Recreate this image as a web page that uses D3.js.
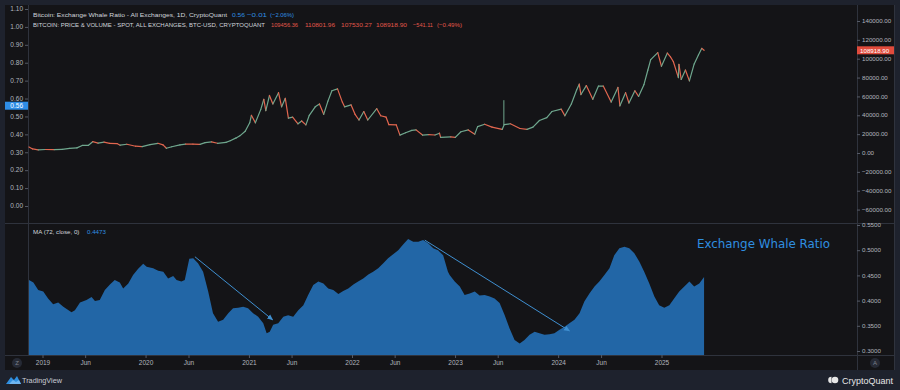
<!DOCTYPE html>
<html><head><meta charset="utf-8">
<script src="https://cdn.jsdelivr.net/npm/d3@7"></script>
<style>html,body{margin:0;padding:0;background:#1e222d;}svg{display:block}</style>
</head><body><svg id="c" width="900" height="390"></svg>
<script>
// ---------------- DATA ----------------
const whaleDates = ["2018-11-10","2018-11-28","2018-12-15","2019-01-02","2019-01-19","2019-02-06","2019-02-24","2019-03-14","2019-04-12","2019-04-24","2019-05-12","2019-06-04","2019-06-22","2019-07-04","2019-07-21","2019-08-08","2019-08-26","2019-09-12","2019-09-30","2019-10-12","2019-10-30","2019-11-16","2019-12-04","2019-12-22","2020-01-03","2020-01-26","2020-02-13","2020-03-02","2020-03-19","2020-04-06","2020-04-18","2020-05-05","2020-05-17","2020-06-02","2020-06-16","2020-07-03","2020-07-21","2020-08-08","2020-08-25","2020-09-12","2020-09-30","2020-10-18","2020-11-04","2020-11-22","2020-12-10","2020-12-27","2021-01-14","2021-02-01","2021-02-19","2021-03-03","2021-03-14","2021-03-26","2021-04-13","2021-05-01","2021-05-18","2021-06-05","2021-06-23","2021-07-11","2021-07-28","2021-08-15","2021-09-02","2021-09-20","2021-10-07","2021-10-25","2021-11-12","2021-11-29","2021-12-17","2022-01-04","2022-01-21","2022-02-08","2022-02-26","2022-03-15","2022-04-02","2022-04-20","2022-05-07","2022-05-25","2022-06-12","2022-06-30","2022-07-17","2022-08-04","2022-08-22","2022-09-08","2022-09-26","2022-10-14","2022-10-31","2022-11-18","2022-12-05","2022-12-11","2022-12-29","2023-01-16","2023-02-02","2023-02-20","2023-03-10","2023-03-27","2023-04-14","2023-05-02","2023-05-19","2023-06-06","2023-06-24","2023-07-11","2023-07-29","2023-08-16","2023-09-02","2023-09-20","2023-10-08","2023-10-25","2023-11-12","2023-11-30","2023-12-17","2024-01-04","2024-01-22","2024-02-08","2024-02-26","2024-03-15","2024-04-01","2024-04-19","2024-05-07","2024-05-24","2024-06-11","2024-06-29","2024-07-16","2024-08-03","2024-08-21","2024-09-07","2024-09-25","2024-10-13","2024-10-30","2024-11-17","2024-12-05","2024-12-22","2025-01-09","2025-01-27","2025-02-13","2025-03-03","2025-03-21","2025-04-08","2025-04-25","2025-05-13","2025-05-30"];
const whaleValues = [0.441,0.436,0.421,0.418,0.404,0.393,0.396,0.388,0.377,0.381,0.396,0.401,0.407,0.399,0.401,0.421,0.432,0.441,0.436,0.424,0.434,0.451,0.463,0.473,0.467,0.464,0.459,0.457,0.444,0.449,0.441,0.438,0.441,0.483,0.484,0.474,0.457,0.418,0.375,0.358,0.362,0.375,0.385,0.386,0.388,0.385,0.375,0.368,0.355,0.335,0.338,0.352,0.355,0.368,0.371,0.368,0.381,0.391,0.411,0.431,0.438,0.434,0.424,0.421,0.413,0.419,0.424,0.432,0.438,0.444,0.452,0.457,0.464,0.474,0.484,0.492,0.500,0.512,0.522,0.517,0.517,0.520,0.514,0.504,0.500,0.490,0.457,0.451,0.438,0.428,0.411,0.414,0.418,0.410,0.411,0.408,0.404,0.395,0.371,0.345,0.322,0.315,0.322,0.332,0.338,0.335,0.332,0.333,0.335,0.342,0.348,0.355,0.362,0.375,0.398,0.414,0.428,0.438,0.451,0.464,0.490,0.504,0.507,0.504,0.494,0.477,0.457,0.434,0.408,0.391,0.386,0.391,0.404,0.418,0.428,0.438,0.428,0.434,0.447];

const priceDates = ["2018-11-10","2018-11-25","2018-12-15","2019-01-10","2019-02-10","2019-03-10","2019-04-05","2019-05-01","2019-05-20","2019-06-10","2019-06-26","2019-07-15","2019-08-05","2019-08-25","2019-09-20","2019-10-01","2019-10-25","2019-11-25","2019-12-18","2020-01-15","2020-02-12","2020-03-01","2020-03-13","2020-04-01","2020-04-30","2020-05-20","2020-06-15","2020-07-10","2020-07-28","2020-08-20","2020-09-10","2020-10-10","2020-10-25","2020-11-15","2020-11-28","2020-12-17","2021-01-02","2021-01-08","2021-01-22","2021-02-10","2021-02-21","2021-02-28","2021-03-13","2021-03-25","2021-04-14","2021-04-25","2021-05-08","2021-05-19","2021-06-03","2021-06-22","2021-07-05","2021-07-20","2021-08-01","2021-08-22","2021-09-06","2021-09-21","2021-10-06","2021-10-20","2021-11-09","2021-11-26","2021-12-04","2021-12-27","2022-01-10","2022-01-24","2022-02-10","2022-02-24","2022-03-28","2022-04-11","2022-04-30","2022-05-10","2022-06-05","2022-06-18","2022-07-08","2022-07-30","2022-08-14","2022-09-06","2022-09-28","2022-10-20","2022-11-05","2022-11-09","2022-12-15","2022-12-31","2023-01-20","2023-02-15","2023-03-10","2023-03-20","2023-04-14","2023-05-10","2023-06-15","2023-06-22","2023-07-14","2023-08-17","2023-09-11","2023-10-02","2023-10-25","2023-11-20","2023-12-08","2024-01-10","2024-01-23","2024-02-15","2024-03-05","2024-03-14","2024-03-20","2024-04-08","2024-05-01","2024-05-21","2024-06-07","2024-07-05","2024-07-29","2024-08-05","2024-08-25","2024-09-06","2024-09-27","2024-10-10","2024-10-29","2024-11-12","2024-11-22","2024-12-17","2024-12-30","2025-01-20","2025-01-31","2025-02-10","2025-02-28","2025-03-02","2025-03-10","2025-03-25","2025-04-08","2025-04-25","2025-05-10","2025-05-22","2025-05-30"];
const priceValues = [6400,4300,3400,3700,3600,3900,5000,5400,8000,8000,12000,10500,11500,10200,10000,8300,9300,7200,6800,8800,10300,8600,5000,6600,8700,9500,9400,9200,11000,11800,10300,11300,13000,16000,18200,23000,32000,40000,32000,46000,57000,45000,61000,52000,64000,49000,58000,37000,38000,31000,34000,29800,40000,49000,52000,41000,55000,66000,68000,54000,49000,51000,41000,35000,44000,35000,47000,39500,38000,30000,29800,19000,21500,24000,24500,19000,19500,19100,21000,16500,17000,16500,22500,24500,20000,28000,30500,27500,25000,30000,31000,26000,25000,27500,34500,37500,44000,46500,39500,52000,67000,73000,62000,71500,57000,71000,71000,54000,69500,50000,64000,53000,66000,60000,72500,88000,99000,106500,92000,106000,102000,97000,80000,94000,78000,88000,76500,94500,104000,111000,108900];

const spikeDates = ["2023-06-21"];
const spikeLows = [30000];
const spikeHighs = [56000];

const leftTicks = [0,0.1,0.2,0.3,0.4,0.5,0.6,0.7,0.8,0.9,1.0,1.1];
const priceTicks = [-60000,-40000,-20000,0,20000,40000,60000,80000,100000,120000,140000];
const whaleTicks = [0.30,0.35,0.40,0.45,0.50,0.55];
const timeTickDates = ["2019-01-01","2019-06-01","2020-01-01","2020-06-01","2021-01-01","2021-06-01","2022-01-01","2022-06-01","2023-01-01","2023-06-01","2024-01-01","2024-06-01","2025-01-01"];
const timeTickLabels = ["2019","Jun","2020","Jun","2021","Jun","2022","Jun","2023","Jun","2024","Jun","2025"];

const arrowFromDates = ["2020-06-22","2022-09-14"];
const arrowFromValues = [0.487,0.520];
const arrowToDates = ["2021-03-24","2024-02-08"];
const arrowToValues = [0.362,0.340];

const ratioLegend = ["0.56","\u22120.01","(\u22122.06%)"];
const priceLegend = ["109456.36","110801.96","107530.27","108918.90","\u2212541.11","(\u22120.49%)"];
const lastRatio = 0.56, lastPrice = 108918.90, lastMA = "0.4473";

// ---------------- LAYOUT ----------------
const P = d3.timeParse("%Y-%m-%d");
const svg = d3.select("#c");
const BG = "#141417", FRAME = "#1e222d", LINE = "#2f333d", TXT = "#b2b5be";
const FONT = "'Liberation Sans', Arial, sans-serif";
const L = 28, R = 857, TOP = 5, MID = 223, BOT = 355, AX = 370;

svg.append("rect").attr("width",900).attr("height",390).attr("fill",FRAME);
svg.append("rect").attr("x",5).attr("y",TOP).attr("width",890).attr("height",AX-TOP).attr("fill",BG);

const x = d3.scaleTime().domain([P("2019-01-01"),P("2025-01-01")]).range([43,662]);
const yL = d3.scaleLinear().domain([0,1.1]).range([206,9]);
const yP = d3.scaleLinear().domain([0,140000]).range([153,21]);
const yW = d3.scaleLinear().domain([0.30,0.55]).range([351,225]);

// panel lines
const g = svg.append("g").attr("stroke",LINE).attr("stroke-width",1).attr("shape-rendering","crispEdges");
g.append("line").attr("x1",L+0.5).attr("x2",L+0.5).attr("y1",TOP).attr("y2",BOT);
g.append("line").attr("x1",R+0.5).attr("x2",R+0.5).attr("y1",TOP).attr("y2",AX);
g.append("line").attr("x1",5).attr("x2",895).attr("y1",MID+0.5).attr("y2",MID+0.5);
g.append("line").attr("x1",5).attr("x2",895).attr("y1",BOT+0.5).attr("y2",BOT+0.5);
g.append("line").attr("x1",894.5).attr("x2",894.5).attr("y1",TOP).attr("y2",AX);

// ---------------- LOWER PANEL: MA area ----------------
const wData = whaleDates.map((d,i)=>({d:P(d),v:whaleValues[i]}));
svg.append("clipPath").attr("id","cw").append("rect")
  .attr("x",L+1).attr("y",MID+1).attr("width",R-L-1).attr("height",BOT-MID-1);
svg.append("path").datum(wData).attr("clip-path","url(#cw)")
  .attr("fill","#2266a6")
  .attr("d",d3.area().x(d=>Math.max(x(d.d),L+1)).y0(BOT).y1(d=>yW(d.v)));

// arrows
const defs = svg.append("defs");
defs.append("marker").attr("id","ah").attr("viewBox","0 0 8 8").attr("refX",7).attr("refY",4)
  .attr("markerWidth",6).attr("markerHeight",6).attr("orient","auto")
  .append("path").attr("d","M0,0.5 L8,4 L0,7.5 Z").attr("fill","#3f8fd0");
arrowFromDates.forEach((d,i)=>{
  svg.append("line")
    .attr("x1",x(P(d))).attr("y1",yW(arrowFromValues[i]))
    .attr("x2",x(P(arrowToDates[i]))).attr("y2",yW(arrowToValues[i]))
    .attr("stroke","#3f8fd0").attr("stroke-width",1).attr("marker-end","url(#ah)");
});

svg.append("text").attr("x",697).attr("y",248).attr("fill","#2f8fe0")
  .attr("font-family","'DejaVu Sans', Verdana, sans-serif").attr("font-size",13)
  .attr("textLength",133).attr("lengthAdjust","spacingAndGlyphs").text("Exchange Whale Ratio");

// ---------------- TOP PANEL: price ----------------
const pData = priceDates.map((d,i)=>({d:P(d),v:priceValues[i]}));
const pg = svg.append("g").attr("stroke-width",1.2).attr("stroke-linecap","round");
for(let i=1;i<pData.length;i++){
  const up = pData[i].v >= pData[i-1].v;
  pg.append("line")
    .attr("x1",Math.max(x(pData[i-1].d),L+1)).attr("y1",yP(pData[i-1].v))
    .attr("x2",x(pData[i].d)).attr("y2",yP(pData[i].v))
    .attr("stroke", up ? "#6fa78e" : "#e2664f");
}
spikeDates.forEach((d,i)=>{
  svg.append("line").attr("x1",x(P(d))).attr("x2",x(P(d)))
    .attr("y1",yP(spikeLows[i])).attr("y2",yP(spikeHighs[i]))
    .attr("stroke","#6fa78e").attr("stroke-width",1);
});

// ---------------- AXES ----------------
const fmt2 = d3.format(".2f");
const la = svg.append("g").attr("font-family",FONT).attr("font-size",6.5).attr("fill",TXT);
leftTicks.forEach(t=>{
  la.append("text").attr("x",23).attr("y",yL(t)+2.3).attr("text-anchor","end").text(fmt2(t));
  svg.append("line").attr("x1",L-3).attr("x2",L).attr("y1",yL(t)+0.5).attr("y2",yL(t)+0.5).attr("stroke","#555a66");
});
svg.append("rect").attr("x",5).attr("y",yL(lastRatio)-4).attr("width",L-5).attr("height",8).attr("fill","#2e8de6");
svg.append("text").attr("x",23).attr("y",yL(lastRatio)+2.3).attr("text-anchor","end")
  .attr("font-family",FONT).attr("font-size",6.5).attr("fill","#fff").text(fmt2(lastRatio));

const ra = svg.append("g").attr("font-family",FONT).attr("font-size",6.2).attr("fill",TXT);
priceTicks.forEach(t=>{
  ra.append("text").attr("x",862).attr("y",yP(t)+2.2).text(fmt2(t).replace("-","\u2212"));
  svg.append("line").attr("x1",R).attr("x2",R+3).attr("y1",yP(t)+0.5).attr("y2",yP(t)+0.5).attr("stroke","#555a66");
});
svg.append("rect").attr("x",R).attr("y",yP(lastPrice)-4).attr("width",37).attr("height",8).attr("fill","#e04b3c");
svg.append("text").attr("x",R+3).attr("y",yP(lastPrice)+2.2).attr("font-family",FONT).attr("font-size",6.2)
  .attr("fill","#fff").text(fmt2(lastPrice));

whaleTicks.forEach(t=>{
  ra.append("text").attr("x",862).attr("y",yW(t)+2.2).text(d3.format(".4f")(t));
  svg.append("line").attr("x1",R).attr("x2",R+3).attr("y1",yW(t)+0.5).attr("y2",yW(t)+0.5).attr("stroke","#555a66");
});

timeTickDates.forEach((d,i)=>{
  const xx = x(P(d));
  svg.append("line").attr("x1",xx).attr("x2",xx).attr("y1",BOT).attr("y2",BOT+3).attr("stroke","#555a66");
  svg.append("text").attr("x",xx).attr("y",365).attr("text-anchor","middle")
    .attr("font-family",FONT).attr("font-size",6.5).attr("fill",TXT).text(timeTickLabels[i]);
});

[[17,"Z"],[875,"A"]].forEach(([cx,t])=>{
  svg.append("circle").attr("cx",cx).attr("cy",363).attr("r",5).attr("fill","#262a35");
  svg.append("text").attr("x",cx).attr("y",365.2).attr("text-anchor","middle").attr("font-family",FONT)
    .attr("font-size",6).attr("fill","#7d818c").text(t);
});

// ---------------- LEGENDS ----------------
const lg = svg.append("g").attr("font-family",FONT).attr("font-size",6.2);
lg.append("text").attr("x",33).attr("y",16.5).attr("fill","#d1d4dc")
  .attr("textLength",194).attr("lengthAdjust","spacingAndGlyphs")
  .text("Bitcoin: Exchange Whale Ratio - All Exchanges, 1D, CryptoQuant");
const rx = [232,247,270], rw = [13,20,24];
ratioLegend.forEach((t,i)=>lg.append("text").attr("x",rx[i]).attr("y",16.5).attr("fill","#2f8fe0")
  .attr("textLength",rw[i]).attr("lengthAdjust","spacingAndGlyphs").text(t));
lg.append("text").attr("x",33).attr("y",26.5).attr("fill","#d1d4dc")
  .attr("textLength",232).attr("lengthAdjust","spacingAndGlyphs")
  .text("BITCOIN: PRICE & VOLUME - SPOT, ALL EXCHANGES, BTC-USD, CRYPTOQUANT");
const px = [271,305,341,376,413,437], pw = [27,30,31,31,20,25];
priceLegend.forEach((t,i)=>lg.append("text").attr("x",px[i]).attr("y",26.5).attr("fill","#e0574a")
  .attr("textLength",pw[i]).attr("lengthAdjust","spacingAndGlyphs").text(t));

lg.append("text").attr("x",33).attr("y",234).attr("fill","#d1d4dc").text("MA (72, close, 0)");
lg.append("text").attr("x",87).attr("y",234).attr("fill","#2f8fe0").text(lastMA);

// ---------------- FOOTER ----------------
const tv = svg.append("g");
tv.append("path").attr("d","M6,384 L11,377 L14,380 L17,376 L21,384 Z").attr("fill","#2f8fe0");
tv.append("path").attr("d","M9,384 L13,380 L16,382 L19,380 L21,384 Z").attr("fill","#6fb5f0");
svg.append("text").attr("x",22).attr("y",383).attr("font-family",FONT).attr("font-size",8)
  .attr("fill","#c9ccd4").attr("textLength",40).attr("lengthAdjust","spacingAndGlyphs").text("TradingView");
svg.append("circle").attr("cx",835).attr("cy",380).attr("r",3.3).attr("fill","#e6e6e6");
svg.append("path").attr("d","M831.5,376.7 A3.3,3.3 0 0 0 831.5,383.3 Z").attr("fill","#e6e6e6");
svg.append("text").attr("x",842).attr("y",383.5).attr("font-family",FONT).attr("font-size",9)
  .attr("fill","#e6e6e6").attr("textLength",51).attr("lengthAdjust","spacingAndGlyphs").text("CryptoQuant");
</script></body></html>
